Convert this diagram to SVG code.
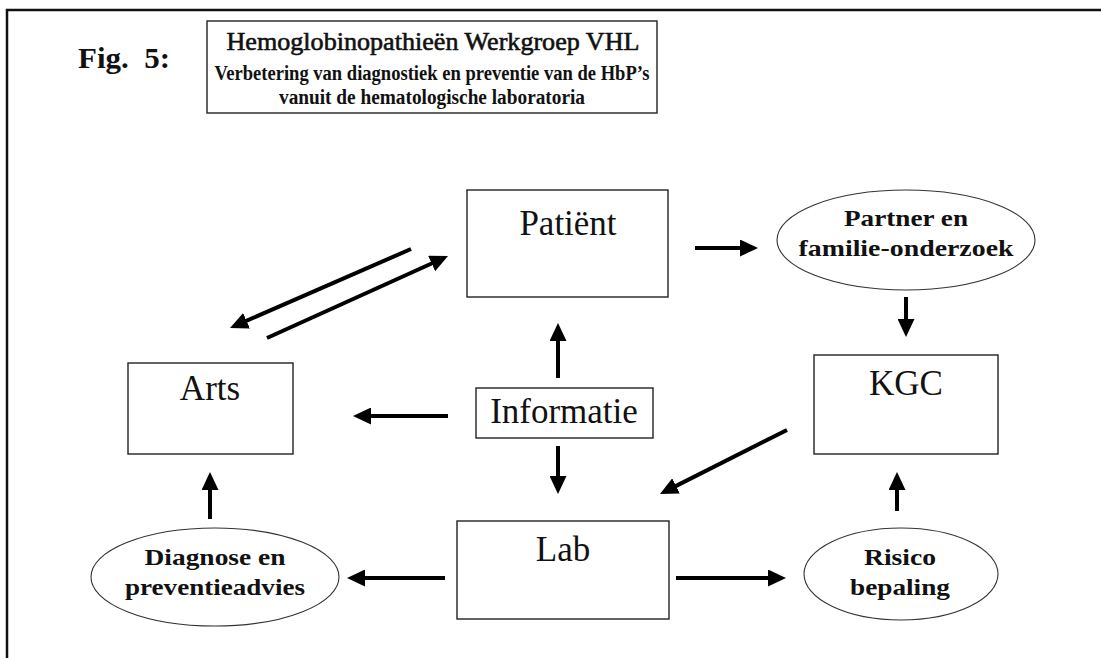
<svg xmlns="http://www.w3.org/2000/svg" width="1101" height="658" viewBox="0 0 1101 658">
<style>
.box{fill:#fff;stroke:#222;stroke-width:1.4}
.ell{fill:#fff;stroke:#333;stroke-width:1.1}
.lbl{font-family:"Liberation Serif","Times New Roman",serif;font-size:35px;fill:#111;text-anchor:middle}
.blbl{font-family:"Liberation Serif","Times New Roman",serif;font-size:23px;font-weight:bold;fill:#111;text-anchor:middle}
.ttl{font-family:"Liberation Serif","Times New Roman",serif;fill:#111;text-anchor:middle}
.arr{stroke:#000;stroke-width:4;fill:none;marker-end:url(#ah)}
</style>
<defs>
<marker id="ah" markerUnits="userSpaceOnUse" markerWidth="18" markerHeight="17" refX="6" refY="8.5" orient="auto" viewBox="0 0 18 17">
<path d="M0,0 L18,8.5 L0,17 z" fill="#000"/>
</marker>
</defs>
<rect width="1101" height="658" fill="#fff"/>
<rect id="frame" x="7" y="10" width="1200" height="800" fill="none" stroke="#111" stroke-width="2.5"/>
<g id="fig-label">
<text x="78" y="68" font-family="Liberation Serif, serif" font-size="29" font-weight="bold" fill="#111" textLength="92" lengthAdjust="spacingAndGlyphs" xml:space="preserve">Fig.  5:</text>
</g>
<g id="title">
<rect x="207" y="21" width="450" height="92" class="box"/>
<text x="433" y="50" class="ttl" font-size="26" stroke="#111" stroke-width="0.6" textLength="413" lengthAdjust="spacingAndGlyphs">Hemoglobinopathieën Werkgroep VHL</text>
<text x="432" y="80" class="ttl" font-size="20" font-weight="bold" textLength="435" lengthAdjust="spacingAndGlyphs">Verbetering van diagnostiek en preventie van de HbP’s</text>
<text x="432" y="104" class="ttl" font-size="20" font-weight="bold" textLength="306" lengthAdjust="spacingAndGlyphs">vanuit de hematologische laboratoria</text>
</g>
<g id="patient">
<rect x="467" y="190" width="201" height="107" class="box"/>
<text x="568" y="235" class="lbl">Patiënt</text>
</g>
<g id="partner">
<ellipse cx="906" cy="240" rx="129" ry="50" class="ell"/>
<text x="906" y="226" class="blbl" textLength="124" lengthAdjust="spacingAndGlyphs">Partner en</text>
<text x="906" y="256" class="blbl" textLength="215" lengthAdjust="spacingAndGlyphs">familie-onderzoek</text>
</g>
<g id="arts">
<rect x="128" y="363" width="165" height="91" class="box"/>
<text x="210" y="400" class="lbl">Arts</text>
</g>
<g id="informatie">
<rect x="476" y="388" width="177" height="50" class="box"/>
<text x="564" y="423" class="lbl">Informatie</text>
</g>
<g id="kgc">
<rect x="814" y="355" width="184" height="99" class="box"/>
<text x="906" y="395" class="lbl">KGC</text>
</g>
<g id="lab">
<rect x="457" y="521" width="212" height="98" class="box"/>
<text x="563" y="561" class="lbl">Lab</text>
</g>
<g id="diagnose">
<ellipse cx="215" cy="577" rx="124" ry="49" class="ell"/>
<text x="215" y="565" class="blbl" textLength="141" lengthAdjust="spacingAndGlyphs">Diagnose en</text>
<text x="215" y="595" class="blbl" textLength="180" lengthAdjust="spacingAndGlyphs">preventieadvies</text>
</g>
<g id="risico">
<ellipse cx="901" cy="574" rx="97" ry="46" class="ell"/>
<text x="900" y="565" class="blbl" textLength="72" lengthAdjust="spacingAndGlyphs">Risico</text>
<text x="900" y="595" class="blbl" textLength="100" lengthAdjust="spacingAndGlyphs">bepaling</text>
</g>
<g id="connectors">
<line x1="411" y1="249" x2="241" y2="323.2" class="arr"/>
<line x1="267" y1="338" x2="437.1" y2="261" class="arr"/>
<line x1="558" y1="378" x2="558" y2="335" class="arr"/>
<line x1="448" y1="416" x2="365" y2="416" class="arr"/>
<line x1="558" y1="446" x2="558" y2="482" class="arr"/>
<line x1="695" y1="248" x2="746" y2="248" class="arr"/>
<line x1="906" y1="297" x2="906" y2="325" class="arr"/>
<line x1="787" y1="430" x2="670.7" y2="488.6" class="arr"/>
<line x1="897" y1="511" x2="897" y2="484" class="arr"/>
<line x1="676" y1="578" x2="774" y2="578" class="arr"/>
<line x1="445" y1="578" x2="359" y2="578" class="arr"/>
<line x1="210" y1="519" x2="210" y2="484" class="arr"/>
</g>
</svg>
